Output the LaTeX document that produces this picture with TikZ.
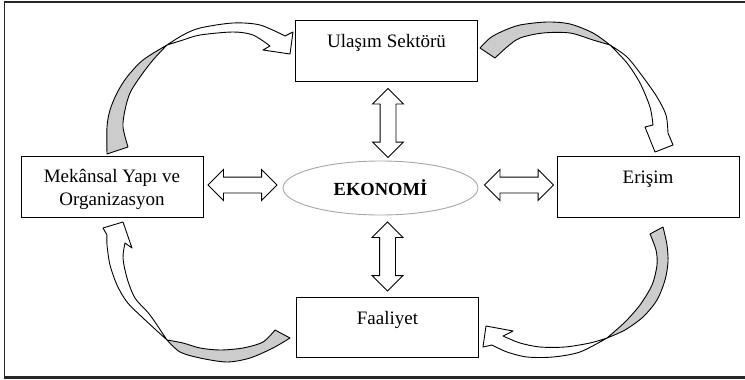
\documentclass[tikz,border=0pt]{standalone}
\usepackage{fontspec}
\setmainfont{Liberation Serif}
\usetikzlibrary{shapes.geometric,shapes.arrows}

\begin{document}
\begin{tikzpicture}[x=1pt,y=-1pt,
  every node/.style={font=\fontsize{19}{23}\selectfont},
  box/.style={draw,line width=0.9pt,minimum width=182pt,minimum height=61pt,inner sep=0pt},
  boxtext/.style={anchor=base,align=center,inner sep=0pt},
  blockarrow/.style={double arrow,draw,line width=0.9pt,fill=white,
    inner xsep=0pt,inner ysep=7.5pt,minimum height=69pt,minimum width=30pt,
    double arrow head extend=7.5pt,double arrow tip angle=90},
  twistback/.style={draw,line width=0.9pt,fill=black!20,line join=round},
  twistfront/.style={draw,line width=0.9pt,fill=white,line join=round}]

  \useasboundingbox (0,0) rectangle (745,380);

  % frame
  \draw[line width=1.6pt,black!85] (4.5,2) rectangle (746,377);
  \draw[line width=3pt,black!85] (3.7,377.5) -- (746,377.5);

  % boxes
  \node[box] (ulasim) at (386.5,50.5) {};
  \node[boxtext] at ([yshift=-27.5pt]ulasim.north) {Ulaşım Sektörü};

  \node[box] (mekan) at (112,186.5) {};
  \node[boxtext] at ([yshift=-50pt]mekan.north) {Mekânsal Yapı ve\\Organizasyon};

  \node[box] (erisim) at (648,186.5) {};
  \node[boxtext] at ([yshift=-28pt]erisim.north) {Erişim};

  \node[box,minimum height=60pt] (faaliyet) at (387.5,327) {};
  \node[boxtext] at ([yshift=-27.5pt]faaliyet.north) {Faaliyet};

  % centre
  \node[ellipse,draw=black!35,line width=0.9pt,minimum width=195pt,minimum height=54pt,
    font=\bfseries\fontsize{18.5}{22}\selectfont] (ekonomi) at (380.5,188) {EKONOMİ};

  % two-way arrows
  \node[blockarrow,rotate=90] (upeko) at (388,123) {};
  \node[blockarrow,rotate=90] (downeko) at (387.5,256.5) {};
  \node[blockarrow] (lefteko) at (242.5,185) {};
  \node[blockarrow] (righteko) at (519,185) {};

  % mekan -> ulasim
  \filldraw[twistback] plot[smooth] coordinates {(107,154) (107,127) (110,110) (117,93) (127,77) (143,60) (167,45)}
    -- plot[smooth] coordinates {(167,45) (153,60) (140,77) (130,93) (125,110) (123,127) (128,147)} -- cycle;
  \filldraw[twistfront] plot[smooth] coordinates {(167,45) (183,35) (200,28) (233,23) (260,25) (285,36)}
    -- (293,32) -- (290,54) -- (263,50) -- (270,46)
    -- plot[smooth] coordinates {(270,46) (253,35) (233,32) (200,35) (183,40) (167,45)} -- cycle;

  % ulasim -> erisim
  \filldraw[twistback] plot[smooth] coordinates {(480,48) (490,38) (503,31) (520,25) (547,22) (570,24) (593,33) (610,45)}
    -- plot[smooth] coordinates {(610,45) (593,40) (570,33) (543,33) (520,38) (507,47) (495,58)} -- cycle;
  \filldraw[twistfront] plot[smooth] coordinates {(610,45) (627,57) (643,77) (657,97) (666,115) (668,133)}
    -- (673,145) -- (655,152) -- (645,127) -- (653,125)
    -- plot[smooth] coordinates {(653,125) (650,107) (640,83) (627,63) (610,45)} -- cycle;

  % erisim -> faaliyet
  \filldraw[twistback] plot[smooth] coordinates {(663,227) (667,245) (668,262) (665,280) (657,300) (643,317) (625,330) (607,338)}
    -- plot[smooth] coordinates {(607,338) (625,322) (640,305) (652,285) (657,265) (656,250) (650,234)} -- cycle;
  \filldraw[twistfront] plot[smooth] coordinates {(607,338) (580,352) (553,357) (527,357) (507,352) (492,345)}
    -- (483,347) -- (486,326) -- (513,331) -- (503,336)
    -- plot[smooth] coordinates {(503,336) (520,343) (540,347) (565,347) (590,343) (607,338)} -- cycle;

  % faaliyet -> mekan
  \filldraw[twistback] plot[smooth] coordinates {(290,338) (273,348) (250,358) (227,362) (200,358) (180,352) (167,340)}
    -- plot[smooth] coordinates {(167,340) (183,343) (200,348) (220,350) (243,348) (263,342) (275,330)} -- cycle;
  \filldraw[twistfront] plot[smooth] coordinates {(167,340) (143,318) (127,302) (117,285) (110,265) (107,245) (107,235)}
    -- (103,228) -- (123,222) -- (132,248) -- (125,243)
    -- plot[smooth] coordinates {(125,243) (123,258) (127,278) (135,298) (150,315) (167,340)} -- cycle;

\end{tikzpicture}
\end{document}
